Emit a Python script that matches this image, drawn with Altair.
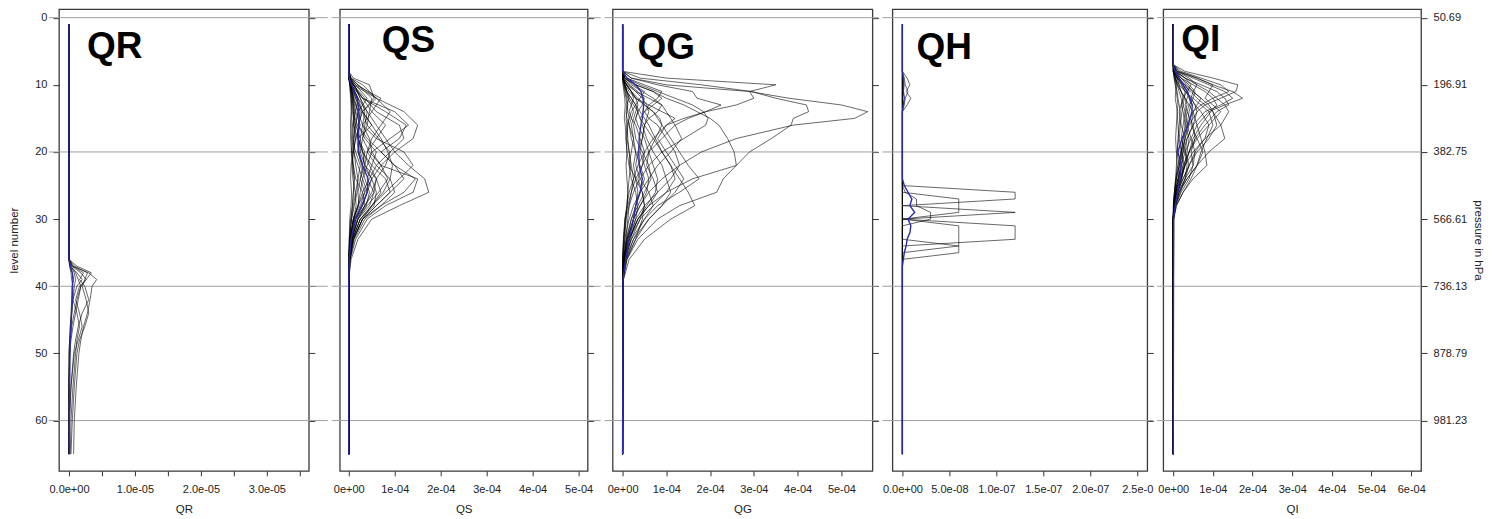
import json
import altair as alt
import pandas as pd

# ---------------- data ----------------
GRID_LEVELS = [0, 20, 40, 60]
Y_TICKS = [0, 10, 20, 30, 40, 50, 60]
PRESSURE_LABELS = ["50.69", "196.91", "382.75", "566.61", "736.13", "878.79", "981.23"]

# QR (values in units of 1e-05)
QR_TICKS = [0, 0.5, 1, 1.5, 2, 2.5, 3, 3.5]
QR_TICK_LABELS = ["0.0e+00", "", "1.0e-05", "", "2.0e-05", "", "3.0e-05", ""]
QR_LEVELS = [1, 36, 37, 38, 39, 40, 42, 44, 46, 48, 50, 55, 60, 65]
QR_PROFILES = [
    [0, 0, 0.05, 0.30, 0.42, 0.35, 0.32, 0.28, 0.22, 0.18, 0.15, 0.11, 0.08, 0.07],
    [0, 0, 0.08, 0.28, 0.24, 0.20, 0.26, 0.30, 0.24, 0.16, 0.12, 0.08, 0.05, 0.03],
    [0, 0, 0.12, 0.34, 0.26, 0.18, 0.12, 0.08, 0.04, 0.02, 0.01, 0, 0, 0],
    [0, 0, 0.06, 0.22, 0.16, 0.24, 0.30, 0.20, 0.14, 0.10, 0.07, 0.03, 0.01, 0],
    [0, 0, 0.04, 0.18, 0.26, 0.16, 0.10, 0.16, 0.20, 0.14, 0.08, 0.03, 0, 0],
    [0, 0, 0.02, 0.12, 0.20, 0.12, 0.06, 0.04, 0.02, 0.01, 0, 0, 0, 0],
    [0, 0, 0.03, 0.10, 0.14, 0.18, 0.14, 0.10, 0.06, 0.03, 0.01, 0, 0, 0],
    [0, 0, 0.02, 0.08, 0.10, 0.08, 0.06, 0.12, 0.16, 0.12, 0.10, 0.06, 0.03, 0.02],
    [0, 0, 0.01, 0.05, 0.07, 0.05, 0.04, 0.03, 0.02, 0.01, 0, 0, 0, 0],
    [0, 0, 0.01, 0.03, 0.04, 0.06, 0.05, 0.04, 0.03, 0.02, 0.01, 0, 0, 0],
]
QR_MEAN = [0, 0, 0.02, 0.05, 0.06, 0.05, 0.05, 0.04, 0.03, 0.02, 0.015, 0.01, 0.005, 0.004]

# QS (units of 1e-04)
QS_TICKS = [0, 1, 2, 3, 4, 5]
QS_TICK_LABELS = ["0e+00", "1e-04", "2e-04", "3e-04", "4e-04", "5e-04"]
QS_LEVELS = [1, 8, 9, 10, 12, 14, 16, 18, 20, 22, 24, 26, 28, 30, 33, 36, 39, 65]
QS_PROFILES = [
    [0, 0, 0.05, 0.2, 0.6, 1.2, 1.5, 1.4, 1.0, 0.7, 0.5, 0.35, 0.2, 0.1, 0.04, 0.01, 0, 0],
    [0, 0, 0, 0.05, 0.2, 0.4, 0.6, 0.8, 1.0, 1.3, 1.65, 1.74, 1.1, 0.5, 0.2, 0.05, 0, 0],
    [0, 0, 0, 0.1, 0.3, 0.8, 1.25, 1.1, 0.7, 1.0, 1.45, 1.2, 0.7, 0.3, 0.1, 0.02, 0, 0],
    [0, 0, 0.02, 0.15, 0.7, 0.5, 0.3, 0.6, 1.2, 1.4, 1.1, 0.8, 0.5, 0.25, 0.08, 0.02, 0, 0],
    [0, 0, 0, 0.05, 0.3, 1.0, 1.3, 0.9, 0.5, 0.7, 1.5, 1.4, 0.8, 0.4, 0.15, 0.03, 0, 0],
    [0, 0, 0.1, 0.45, 0.55, 0.3, 0.2, 0.4, 0.7, 1.0, 1.2, 0.9, 0.6, 0.3, 0.1, 0.02, 0, 0],
    [0, 0, 0.05, 0.3, 0.6, 0.9, 0.7, 0.5, 0.4, 0.6, 0.9, 1.0, 0.7, 0.35, 0.12, 0.03, 0, 0],
    [0, 0, 0, 0.1, 0.35, 0.6, 1.1, 1.2, 0.9, 0.6, 0.45, 0.3, 0.2, 0.1, 0.03, 0, 0, 0],
    [0, 0, 0.03, 0.2, 0.5, 0.45, 0.4, 0.65, 0.9, 0.8, 0.6, 0.5, 0.35, 0.15, 0.05, 0.01, 0, 0],
    [0, 0, 0, 0.05, 0.2, 0.3, 0.5, 0.7, 0.85, 0.95, 0.9, 0.75, 0.5, 0.25, 0.08, 0.02, 0, 0],
    [0, 0, 0.02, 0.1, 0.25, 0.4, 0.35, 0.3, 0.45, 0.7, 0.85, 0.65, 0.4, 0.2, 0.07, 0.02, 0, 0],
    [0, 0, 0, 0.05, 0.15, 0.25, 0.2, 0.35, 0.6, 0.5, 0.4, 0.55, 0.45, 0.2, 0.06, 0.01, 0, 0],
    [0, 0, 0.04, 0.15, 0.4, 0.2, 0.15, 0.25, 0.3, 0.45, 0.6, 0.7, 0.5, 0.3, 0.1, 0.02, 0, 0],
    [0, 0, 0, 0.03, 0.1, 0.2, 0.3, 0.25, 0.2, 0.3, 0.5, 0.4, 0.3, 0.15, 0.05, 0.01, 0, 0],
    [0, 0, 0.02, 0.08, 0.2, 0.15, 0.1, 0.2, 0.35, 0.3, 0.25, 0.35, 0.25, 0.12, 0.04, 0.01, 0, 0],
    [0, 0, 0, 0.05, 0.1, 0.15, 0.25, 0.15, 0.1, 0.2, 0.3, 0.25, 0.2, 0.1, 0.03, 0, 0, 0],
    [0, 0, 0.01, 0.05, 0.08, 0.12, 0.1, 0.08, 0.15, 0.25, 0.2, 0.15, 0.1, 0.06, 0.02, 0, 0, 0],
    [0, 0, 0, 0.02, 0.05, 0.08, 0.12, 0.15, 0.1, 0.08, 0.12, 0.1, 0.08, 0.04, 0.01, 0, 0, 0],
    [0, 0, 0.02, 0.06, 0.12, 0.2, 0.15, 0.1, 0.05, 0.1, 0.15, 0.3, 0.35, 0.2, 0.06, 0.01, 0, 0],
    [0, 0, 0, 0.03, 0.06, 0.05, 0.04, 0.06, 0.08, 0.05, 0.04, 0.06, 0.05, 0.02, 0.01, 0, 0, 0],
    [0, 0, 0, 0.1, 0.6, 0.3, 0.5, 0.2, 0.3, 0.5, 0.8, 0.9, 0.6, 0.3, 0.1, 0.02, 0, 0],
    [0, 0, 0.02, 0.1, 0.3, 0.5, 0.8, 0.6, 0.4, 0.35, 0.5, 0.6, 0.55, 0.25, 0.08, 0.01, 0, 0],
    [0, 0, 0.01, 0.04, 0.1, 0.12, 0.08, 0.1, 0.12, 0.15, 0.2, 0.18, 0.12, 0.06, 0.02, 0, 0, 0],
    [0, 0, 0, 0.02, 0.04, 0.06, 0.05, 0.04, 0.06, 0.1, 0.12, 0.1, 0.08, 0.05, 0.02, 0, 0, 0],
    [0, 0, 0.01, 0.03, 0.07, 0.1, 0.14, 0.12, 0.09, 0.07, 0.09, 0.14, 0.16, 0.1, 0.04, 0.01, 0, 0],
    [0, 0, 0.01, 0.05, 0.15, 0.3, 0.4, 0.3, 0.25, 0.35, 0.6, 0.55, 0.35, 0.15, 0.05, 0.01, 0, 0],
    [0, 0, 0.03, 0.12, 0.25, 0.35, 0.3, 0.45, 0.5, 0.4, 0.3, 0.4, 0.3, 0.12, 0.04, 0, 0, 0],
    [0, 0, 0, 0.04, 0.08, 0.1, 0.18, 0.2, 0.3, 0.35, 0.25, 0.2, 0.22, 0.1, 0.03, 0, 0, 0],
    [0, 0, 0.02, 0.07, 0.18, 0.28, 0.22, 0.18, 0.2, 0.28, 0.35, 0.45, 0.38, 0.18, 0.06, 0.01, 0, 0],
]
QS_MEAN = [0, 0, 0.01, 0.06, 0.18, 0.22, 0.22, 0.21, 0.22, 0.3, 0.42, 0.4, 0.28, 0.14, 0.05, 0.01, 0, 0]

# QG (units of 1e-04)
QG_TICKS = [0, 1, 2, 3, 4, 5]
QG_TICK_LABELS = ["0e+00", "1e-04", "2e-04", "3e-04", "4e-04", "5e-04"]
QG_LEVELS = [1, 8, 9, 10, 11, 12, 13, 14, 15, 16, 18, 20, 22, 24, 26, 28, 30, 33, 36, 39, 65]
QG_PROFILES = [
    [0, 0, 0.2, 1.0, 2.9, 3.8, 5.0, 5.6, 5.3, 3.9, 2.6, 1.8, 1.3, 0.9, 0.6, 0.4, 0.25, 0.1, 0.03, 0, 0],
    [0, 0, 0.4, 1.8, 2.95, 3.5, 4.2, 4.25, 3.9, 3.85, 3.4, 2.9, 2.6, 2.3, 2.15, 1.3, 0.8, 0.35, 0.1, 0, 0],
    [0, 0, 0.05, 0.3, 0.7, 1.0, 1.4, 1.7, 2.0, 2.2, 2.4, 2.55, 2.6, 1.6, 1.0, 0.6, 0.35, 0.15, 0.05, 0, 0],
    [0, 0, 1.0, 3.5, 2.9, 3.0, 2.6, 1.9, 1.4, 1.0, 0.7, 0.5, 0.35, 0.25, 0.15, 0.1, 0.05, 0.02, 0, 0, 0],
    [0, 0, 0.2, 0.8, 1.6, 1.7, 2.25, 1.9, 1.5, 1.2, 0.9, 0.6, 0.45, 0.3, 0.2, 0.12, 0.06, 0.02, 0, 0, 0],
    [0, 0, 0.1, 0.4, 0.8, 1.2, 1.6, 1.85, 1.95, 1.9, 1.4, 0.9, 0.6, 0.4, 0.25, 0.15, 0.08, 0.03, 0, 0, 0],
    [0, 0, 0, 0.1, 0.2, 0.35, 0.5, 0.7, 0.8, 0.9, 1.1, 1.3, 1.5, 1.75, 1.3, 0.8, 0.5, 0.2, 0.05, 0, 0],
    [0, 0, 0, 0.05, 0.1, 0.2, 0.3, 0.4, 0.5, 0.6, 0.75, 0.9, 1.1, 1.3, 1.5, 1.65, 1.1, 0.5, 0.15, 0.02, 0],
    [0, 0, 0.05, 0.2, 0.45, 0.7, 0.9, 1.0, 1.1, 1.2, 1.35, 1.1, 0.8, 0.6, 0.4, 0.25, 0.15, 0.05, 0.01, 0, 0],
    [0, 0, 0.1, 0.5, 0.9, 0.8, 0.6, 0.5, 0.6, 0.8, 1.0, 1.2, 1.3, 1.1, 0.8, 0.5, 0.3, 0.12, 0.03, 0, 0],
    [0, 0, 0, 0.1, 0.3, 0.6, 0.9, 0.8, 0.6, 0.5, 0.7, 0.9, 1.1, 1.2, 1.0, 0.7, 0.4, 0.15, 0.04, 0, 0],
    [0, 0, 0.05, 0.3, 0.7, 0.9, 0.7, 0.5, 0.4, 0.45, 0.55, 0.7, 0.9, 1.0, 1.1, 0.9, 0.6, 0.25, 0.06, 0, 0],
    [0, 0, 0, 0.05, 0.15, 0.3, 0.5, 0.7, 0.85, 0.9, 0.75, 0.6, 0.55, 0.7, 0.8, 0.6, 0.35, 0.15, 0.04, 0, 0],
    [0, 0, 0.02, 0.15, 0.35, 0.5, 0.45, 0.35, 0.3, 0.35, 0.5, 0.6, 0.7, 0.8, 0.75, 0.55, 0.35, 0.15, 0.04, 0, 0],
    [0, 0, 0, 0.05, 0.1, 0.2, 0.3, 0.35, 0.4, 0.5, 0.45, 0.35, 0.3, 0.4, 0.6, 0.7, 0.5, 0.25, 0.08, 0.01, 0],
    [0, 0, 0.01, 0.08, 0.2, 0.25, 0.2, 0.15, 0.2, 0.3, 0.4, 0.5, 0.45, 0.35, 0.45, 0.5, 0.4, 0.2, 0.06, 0.01, 0],
    [0, 0, 0, 0.03, 0.08, 0.12, 0.2, 0.25, 0.2, 0.15, 0.2, 0.3, 0.4, 0.5, 0.4, 0.3, 0.25, 0.12, 0.04, 0, 0],
    [0, 0, 0.02, 0.05, 0.1, 0.15, 0.1, 0.08, 0.1, 0.15, 0.25, 0.2, 0.15, 0.2, 0.3, 0.35, 0.3, 0.18, 0.06, 0.01, 0],
    [0, 0, 0, 0.02, 0.05, 0.08, 0.1, 0.12, 0.15, 0.12, 0.1, 0.15, 0.2, 0.25, 0.2, 0.15, 0.12, 0.08, 0.03, 0, 0],
    [0, 0, 0, 0.01, 0.03, 0.05, 0.06, 0.05, 0.04, 0.06, 0.08, 0.1, 0.08, 0.1, 0.12, 0.1, 0.08, 0.05, 0.02, 0, 0],
    [0, 0, 0.05, 0.25, 0.5, 0.4, 0.3, 0.2, 0.15, 0.1, 0.08, 0.1, 0.15, 0.3, 0.45, 0.5, 0.45, 0.3, 0.1, 0.02, 0],
    [0, 0, 0, 0.1, 0.2, 0.3, 0.6, 0.9, 1.2, 1.0, 0.8, 1.0, 1.2, 1.4, 1.2, 0.9, 0.6, 0.3, 0.08, 0.01, 0],
    [0, 0, 0.03, 0.15, 0.3, 0.45, 0.55, 0.6, 0.55, 0.5, 0.45, 0.4, 0.5, 0.6, 0.55, 0.4, 0.25, 0.1, 0.03, 0, 0],
    [0, 0, 0, 0.05, 0.1, 0.15, 0.25, 0.35, 0.3, 0.25, 0.3, 0.45, 0.6, 0.65, 0.5, 0.35, 0.2, 0.08, 0.02, 0, 0],
    [0, 0, 0.02, 0.08, 0.2, 0.3, 0.35, 0.3, 0.25, 0.2, 0.25, 0.3, 0.25, 0.3, 0.35, 0.3, 0.2, 0.1, 0.03, 0, 0],
    [0, 0, 0.01, 0.04, 0.06, 0.1, 0.12, 0.1, 0.08, 0.1, 0.12, 0.15, 0.18, 0.15, 0.12, 0.1, 0.06, 0.03, 0.01, 0, 0],
]
QG_MEAN = [0, 0, 0.1, 0.3, 0.42, 0.47, 0.48, 0.47, 0.45, 0.42, 0.38, 0.37, 0.38, 0.45, 0.4, 0.3, 0.25, 0.15, 0.07, 0.01, 0]

# QH (units of 1e-08)
QH_TICKS = [0, 5, 10, 15, 20, 25]
QH_TICK_LABELS = ["0.0e+00", "5.0e-08", "1.0e-07", "1.5e-07", "2.0e-07", "2.5e-0"]
QH_LEVELS = [1, 8, 9, 10, 11, 12, 13, 14, 24, 25, 26, 27, 28, 29, 30, 31, 32, 33, 34, 35, 36, 37, 65]
QH_PROFILES = [
    [0, 0, 0, 0, 0, 0, 0, 0, 0, 0, 12, 12, 0, 0, 0, 0, 0, 0, 0, 0, 0, 0, 0],
    [0, 0, 0, 0, 0, 0, 0, 0, 0, 0, 0, 0, 0, 12, 0, 0, 0, 0, 0, 0, 0, 0, 0],
    [0, 0, 0, 0, 0, 0, 0, 0, 0, 0, 0, 0, 0, 0, 0, 12, 12, 12, 0, 0, 0, 0, 0],
    [0, 0, 0, 0, 0, 0, 0, 0, 0, 0, 0, 6, 6, 6, 0, 0, 0, 0, 0, 0, 0, 0, 0],
    [0, 0, 0, 0, 0, 0, 0, 0, 0, 0, 0, 0, 0, 0, 0, 6, 6, 6, 6, 0, 0, 0, 0],
    [0, 0, 0, 0, 0, 0, 0, 0, 0, 0, 0, 0, 0, 0, 0, 0, 0, 0, 6, 6, 0, 0, 0],
    [0, 0, 0, 0, 0, 0, 0, 0, 0, 0, 0.3, 1.5, 1.5, 3, 3, 0, 0, 0, 0, 0, 0, 0, 0],
    [0, 0, 0.5, 0.8, 0.4, 0.9, 0.5, 0, 0, 0, 0, 0, 0, 0, 0, 0, 0, 0, 0, 0, 0, 0, 0],
    [0, 0, 0.2, 0.3, 0.6, 0.3, 0.2, 0, 0, 0, 0, 0, 0, 0, 0, 0, 0, 0, 0, 0, 0, 0, 0],
]
QH_MEAN = [0, 0, 0.1, 0.15, 0.1, 0.2, 0.1, 0, 0, 0.2, 0.6, 1.0, 0.8, 1.3, 0.6, 0.9, 0.8, 0.5, 0.4, 0.2, 0.1, 0, 0]

# QI (units of 1e-04)
QI_TICKS = [0, 1, 2, 3, 4, 5, 6]
QI_TICK_LABELS = ["0e+00", "1e-04", "2e-04", "3e-04", "4e-04", "5e-04", "6e-04"]
QI_LEVELS = [1, 7, 8, 9, 10, 11, 12, 13, 14, 16, 18, 20, 22, 24, 26, 28, 30, 65]
QI_PROFILES = [
    [0, 0, 0.1, 0.6, 1.0, 1.5, 1.75, 1.3, 0.9, 0.6, 0.45, 0.3, 0.2, 0.12, 0.06, 0.02, 0, 0],
    [0, 0, 0.3, 1.0, 1.63, 1.58, 1.2, 0.8, 0.6, 0.4, 0.3, 0.2, 0.12, 0.06, 0.03, 0.01, 0, 0],
    [0, 0, 0.05, 0.3, 0.6, 0.9, 1.1, 1.3, 1.4, 1.2, 0.8, 0.5, 0.3, 0.15, 0.06, 0.02, 0, 0],
    [0, 0, 0.02, 0.1, 0.3, 0.5, 0.7, 0.9, 1.0, 1.2, 1.3, 0.9, 0.6, 0.35, 0.15, 0.05, 0, 0],
    [0, 0, 0, 0.05, 0.1, 0.2, 0.3, 0.4, 0.5, 0.6, 0.7, 0.8, 0.85, 0.5, 0.25, 0.08, 0.01, 0],
    [0, 0, 0.2, 0.7, 1.2, 1.4, 1.0, 0.7, 0.5, 0.35, 0.25, 0.2, 0.15, 0.08, 0.04, 0.01, 0, 0],
    [0, 0, 0.1, 0.5, 0.9, 1.3, 1.5, 1.2, 0.8, 0.5, 0.35, 0.25, 0.15, 0.08, 0.03, 0, 0, 0],
    [0, 0, 0.05, 0.2, 0.5, 0.8, 1.0, 1.1, 0.95, 0.7, 0.5, 0.4, 0.3, 0.2, 0.1, 0.03, 0, 0],
    [0, 0, 0.02, 0.1, 0.25, 0.45, 0.6, 0.8, 1.0, 1.1, 0.9, 0.6, 0.4, 0.25, 0.1, 0.03, 0, 0],
    [0, 0, 0.1, 0.4, 0.6, 0.5, 0.45, 0.55, 0.7, 0.9, 0.8, 0.55, 0.4, 0.25, 0.1, 0.02, 0, 0],
    [0, 0, 0.05, 0.2, 0.35, 0.5, 0.7, 0.6, 0.5, 0.45, 0.6, 0.75, 0.6, 0.35, 0.15, 0.04, 0, 0],
    [0, 0, 0.03, 0.15, 0.3, 0.4, 0.35, 0.3, 0.35, 0.5, 0.55, 0.45, 0.5, 0.4, 0.2, 0.06, 0.01, 0],
    [0, 0, 0.02, 0.08, 0.2, 0.3, 0.45, 0.55, 0.6, 0.5, 0.35, 0.3, 0.35, 0.3, 0.18, 0.06, 0.01, 0],
    [0, 0, 0.08, 0.3, 0.45, 0.35, 0.25, 0.2, 0.25, 0.3, 0.25, 0.2, 0.25, 0.2, 0.1, 0.03, 0, 0],
    [0, 0, 0.01, 0.05, 0.12, 0.2, 0.3, 0.35, 0.3, 0.25, 0.2, 0.3, 0.4, 0.3, 0.15, 0.05, 0, 0],
    [0, 0, 0.02, 0.1, 0.15, 0.2, 0.25, 0.2, 0.15, 0.2, 0.3, 0.25, 0.2, 0.15, 0.08, 0.02, 0, 0],
    [0, 0, 0, 0.03, 0.06, 0.1, 0.12, 0.15, 0.18, 0.15, 0.12, 0.1, 0.15, 0.12, 0.06, 0.02, 0, 0],
    [0, 0, 0.01, 0.04, 0.08, 0.06, 0.05, 0.08, 0.1, 0.08, 0.06, 0.08, 0.1, 0.08, 0.04, 0.01, 0, 0],
    [0, 0, 0.15, 0.6, 1.0, 0.9, 0.8, 1.0, 1.2, 0.9, 0.6, 0.4, 0.3, 0.2, 0.1, 0.03, 0, 0],
    [0, 0, 0.05, 0.3, 0.7, 1.1, 1.3, 1.4, 1.1, 0.8, 0.55, 0.4, 0.25, 0.12, 0.05, 0.01, 0, 0],
    [0, 0, 0, 0.05, 0.15, 0.3, 0.5, 0.7, 0.9, 1.0, 0.85, 0.7, 0.6, 0.45, 0.25, 0.08, 0.01, 0],
    [0, 0, 0.02, 0.12, 0.25, 0.35, 0.4, 0.45, 0.4, 0.35, 0.45, 0.55, 0.5, 0.3, 0.12, 0.03, 0, 0],
    [0, 0, 0.03, 0.12, 0.22, 0.3, 0.28, 0.25, 0.3, 0.35, 0.3, 0.22, 0.28, 0.22, 0.12, 0.04, 0, 0],
    [0, 0, 0.01, 0.06, 0.1, 0.15, 0.2, 0.25, 0.22, 0.18, 0.15, 0.2, 0.18, 0.14, 0.07, 0.02, 0, 0],
    [0, 0, 0.05, 0.2, 0.4, 0.55, 0.5, 0.4, 0.35, 0.3, 0.4, 0.35, 0.28, 0.18, 0.08, 0.02, 0, 0],
    [0, 0, 0, 0.02, 0.05, 0.08, 0.1, 0.12, 0.1, 0.12, 0.14, 0.1, 0.08, 0.06, 0.03, 0.01, 0, 0],
]
QI_MEAN = [0, 0, 0.05, 0.15, 0.25, 0.35, 0.42, 0.48, 0.47, 0.38, 0.22, 0.12, 0.2, 0.17, 0.11, 0.05, 0.01, 0]

# ---------------- layout ----------------
Y_DOMAIN = [-1.265, 67.49]
PLOT_HEIGHT = 462
FONT = "Liberation Sans"
LINE_BLUE = "#2b2ba8"

PANELS = [
    dict(name="QR", levels=QR_LEVELS, profiles=QR_PROFILES, mean=QR_MEAN,
         domain=[-0.152, 3.636], ticks=QR_TICKS, labels=QR_TICK_LABELS,
         width=250, left_ext=10, right_ext=19, title_xy=(28, 49), xtitle="QR"),
    dict(name="QS", levels=QS_LEVELS, profiles=QS_PROFILES, mean=QS_MEAN,
         domain=[-0.196, 5.196], ticks=QS_TICKS, labels=QS_TICK_LABELS,
         width=248, left_ext=8, right_ext=13, title_xy=(42, 43), xtitle="QS"),
    dict(name="QG", levels=QG_LEVELS, profiles=QG_PROFILES, mean=QG_MEAN,
         domain=[-0.228, 5.708], ticks=QG_TICKS, labels=QG_TICK_LABELS,
         width=260, left_ext=8, right_ext=6, title_xy=(25, 50), xtitle="QG"),
    dict(name="QH", levels=QH_LEVELS, profiles=QH_PROFILES, mean=QH_MEAN,
         domain=[-1.064, 26.06], ticks=QH_TICKS, labels=QH_TICK_LABELS,
         width=255, left_ext=10, right_ext=6, title_xy=(24, 50), xtitle=""),
    dict(name="QI", levels=QI_LEVELS, profiles=QI_PROFILES, mean=QI_MEAN,
         domain=[-0.252, 6.247], ticks=QI_TICKS, labels=QI_TICK_LABELS,
         width=258, left_ext=6, right_ext=0, title_xy=(18, 42), xtitle="QI"),
]


def lines_df(levels, profiles, mean):
    rows = []
    for k, prof in enumerate(profiles):
        if len(prof) != len(levels):
            raise ValueError(f"profile {k} has {len(prof)} values, expected {len(levels)}")
        for lv, v in zip(levels, prof):
            rows.append({"pid": k, "kind": "profile", "level": lv, "value": v})
    if len(mean) != len(levels):
        raise ValueError("mean length mismatch")
    for lv, v in zip(levels, mean):
        rows.append({"pid": len(profiles), "kind": "mean", "level": lv, "value": v})
    return pd.DataFrame(rows)


def label_expr(ticks, labels):
    return f"{json.dumps(labels)}[indexof({json.dumps(ticks)}, datum.value)]"


def make_panel(i, p):
    first = i == 0
    last = i == len(PANELS) - 1
    yscale = alt.Scale(domain=Y_DOMAIN, reverse=True, nice=False, zero=False)
    xscale = alt.Scale(domain=p["domain"], nice=False, zero=False)

    if last:
        right_axis = alt.Axis(orient="right", values=Y_TICKS,
                              labelExpr=label_expr(Y_TICKS, PRESSURE_LABELS),
                              title="pressure in hPa", tickSize=6, labelPadding=6,
                              titlePadding=6, domain=False, grid=False)
    else:
        right_axis = alt.Axis(orient="right", values=Y_TICKS, labels=False, title=None,
                              tickSize=6, domain=False, grid=False, minExtent=0, maxExtent=6)

    rules = alt.Chart(pd.DataFrame({"level": GRID_LEVELS})).mark_rule(
        color="#a0a0a0", strokeWidth=1
    ).encode(
        y=alt.Y("level:Q", scale=yscale, axis=right_axis),
        x=alt.value(-p["left_ext"]),
        x2=alt.value(p["width"] + p["right_ext"]),
    )

    if first:
        line_y_axis = alt.Axis(orient="left", values=Y_TICKS, title="level number",
                               tickSize=6, labelPadding=6, minExtent=30, maxExtent=30,
                               titlePadding=9, domain=False, grid=False)
    else:
        # identical to the rule layer's axis so that the two merge into one
        line_y_axis = right_axis

    x_axis = alt.Axis(orient="bottom", values=p["ticks"],
                      labelExpr=label_expr(p["ticks"], p["labels"]),
                      title=p["xtitle"] if p["xtitle"] else None,
                      tickSize=5, labelPadding=8, titlePadding=9,
                      domain=False, grid=False, labelOverlap=False, labelFlush=False)

    lines = alt.Chart(lines_df(p["levels"], p["profiles"], p["mean"])).mark_line().encode(
        x=alt.X("value:Q", scale=xscale, axis=x_axis),
        y=alt.Y("level:Q", scale=yscale, axis=line_y_axis),
        detail="pid:N",
        color=alt.Color("kind:N", scale=alt.Scale(domain=["profile", "mean"],
                                                  range=["#000000", LINE_BLUE]), legend=None),
        strokeWidth=alt.StrokeWidth("kind:N", scale=alt.Scale(domain=["profile", "mean"],
                                                              range=[0.7, 1.4]), legend=None),
        opacity=alt.Opacity("kind:N", scale=alt.Scale(domain=["profile", "mean"],
                                                      range=[0.85, 1.0]), legend=None),
        order=alt.Order("level:Q"),
    )

    tx, ty = p["title_xy"]
    label = alt.Chart(pd.DataFrame({"t": [p["name"]]})).mark_text(
        font=FONT, fontSize=37, fontWeight="bold", align="left",
        baseline="alphabetic", color="black"
    ).encode(text="t:N", x=alt.value(tx), y=alt.value(ty))

    return alt.layer(rules, lines, label).properties(
        width=p["width"], height=PLOT_HEIGHT
    )


chart = alt.hconcat(*[make_panel(i, p) for i, p in enumerate(PANELS)], spacing=0).properties(
    padding=0, background="white"
).configure_view(
    stroke="#3a3a3a", strokeWidth=1.3, fill="white"
).configure_axis(
    labelFont=FONT, titleFont=FONT, labelFontSize=11, titleFontSize=11.5,
    labelColor="#222222", titleColor="#222222", tickColor="#333333",
    titleFontWeight="normal"
)

chart.save("out.html", embed_options={"renderer": "svg", "actions": False})
